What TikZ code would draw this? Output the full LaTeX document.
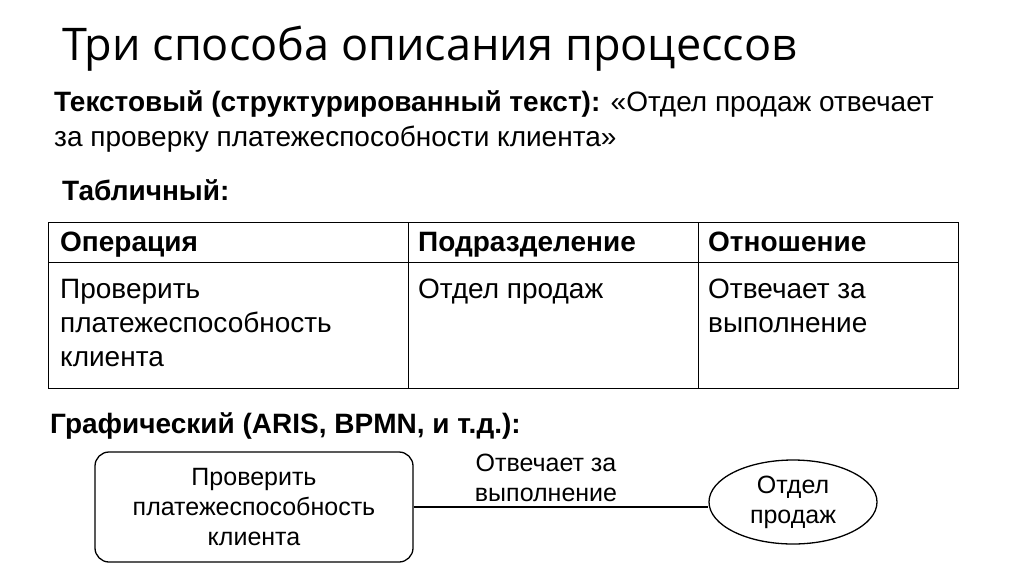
\documentclass[tikz,border=0pt]{standalone}
\usepackage{fontspec}
\setmainfont{Liberation Sans}
\newfontfamily\titlefont{Open Sans}
\usetikzlibrary{shapes.geometric}
\begin{document}
\begin{tikzpicture}[x=1pt,y=-1pt,
  lbl/.style={anchor=base west,inner sep=0pt,font=\fontsize{28}{33}\selectfont},
  hb/.style={lbl,font=\bfseries\fontsize{28}{33}\selectfont},
  cell/.style={anchor=north west,inner sep=0pt,align=left,font=\fontsize{28}{34}\selectfont},
  gtext/.style={align=center,font=\fontsize{25}{30}\selectfont}]
\useasboundingbox (0,0) rectangle (1024,574);
\node[anchor=base west,inner sep=0pt,font=\titlefont\fontsize{45}{48}\selectfont] (title) at (62,60) {Три способа описания процессов};
\node[anchor=north west,inner sep=0pt,align=left,font=\fontsize{28}{35}\selectfont] (txt) at (54,90) {\textbf{Текстовый (структурированный текст):} «Отдел продаж отвечает\\за проверку платежеспособности клиента»};
\node[hb] (tab) at (62,200) {Табличный:};
\draw[line width=1pt] (48,222) rectangle (958,388);
\draw[line width=1pt] (48,262) -- (958,262);
\draw[line width=1pt] (408,222) -- (408,388);
\draw[line width=1pt] (698,222) -- (698,388);
\node[hb] (h1) at (60,251) {Операция};
\node[hb] (h2) at (418,251) {Подразделение};
\node[hb] (h3) at (708,251) {Отношение};
\node[cell] (c1) at (60,279) {Проверить\\платежеспособность\\клиента};
\node[cell] (c2) at (418,279) {Отдел продаж};
\node[cell] (c3) at (708,279) {Отвечает за\\выполнение};
\node[hb] (gr) at (50,433) {Графический (ARIS, BPMN, и т.д.):};
\node[draw,line width=1.3pt,rounded corners=14pt,minimum width=318pt,minimum height=110pt,gtext] (op) at (254,507) {Проверить\\платежеспособность\\клиента};
\node[draw,line width=1.3pt,ellipse,minimum width=168pt,minimum height=84pt,inner sep=0pt,gtext] (dep) at (793,502) {Отдел\\продаж};
\draw[line width=1.3pt] (op.east |- 0,507) coordinate (a) -- (dep.west |- 0,507);
\node[gtext] (rel) at (546,478) {Отвечает за\\выполнение};
\end{tikzpicture}
\end{document}
